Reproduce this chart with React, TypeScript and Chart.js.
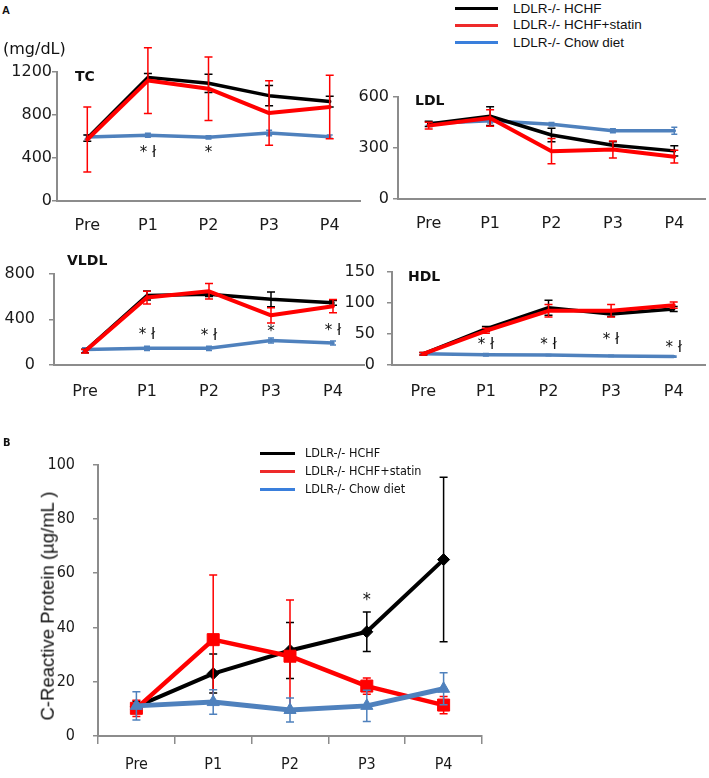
import React, { useEffect, useRef } from 'react';
import { Chart, registerables } from 'chart.js';
Chart.register(...registerables);

// ---------- data ----------
const categories = ['Pre', 'P1', 'P2', 'P3', 'P4'];
const legendLabels = ['LDLR-/- HCHF', 'LDLR-/- HCHF+statin', 'LDLR-/- Chow diet'];

// Panel A: TC
const tcHCHF = [585, 1150, 1095, 980, 925];
const tcHCHFErr = [30, 35, 85, 95, 50];
const tcStatin = [572, 1120, 1045, 818, 875];
const tcStatinErr = [302, 305, 295, 300, 295];
const tcChow = [595, 612, 592, 632, 598];
const tcChowErr = [20, 18, 15, 25, 15];
const tcMarks = ['', '* ł', '*', '', ''];
const tcMarkAt = [0, 450, 450, 0, 0];

// Panel A: LDL
const ldlHCHF = [440, 485, 375, 315, 282];
const ldlHCHFErr = [15, 55, 40, 20, 30];
const ldlStatin = [430, 475, 280, 290, 248];
const ldlStatinErr = [20, 48, 74, 50, 37];
const ldlChow = [442, 458, 438, 400, 400];
const ldlChowErr = [10, 12, 10, 12, 20];
const ldlMarks = ['', '', '', '', ''];
const ldlMarkAt = [0, 0, 0, 0, 0];

// Panel A: VLDL
const vldlHCHF = [122, 608, 620, 575, 544];
const vldlHCHFErr = [15, 40, 20, 65, 20];
const vldlStatin = [120, 590, 645, 435, 515];
const vldlStatinErr = [15, 55, 68, 67, 58];
const vldlChow = [135, 146, 146, 215, 192];
const vldlChowErr = [15, 18, 18, 22, 18];
const vldlMarks = ['', '* ł', '* ł', '*', '* ł'];
const vldlMarkAt = [0, 258, 255, 285, 298];

// Panel A: HDL
const hdlHCHF = [18, 58, 92, 82, 90];
const hdlHCHFErr = [2, 4, 12, 4, 4];
const hdlStatin = [18, 55, 87, 87, 96];
const hdlStatinErr = [2, 4, 10, 10, 5];
const hdlChow = [18, 16.5, 16, 14.5, 13.5];
const hdlChowErr = [1, 2, 1, 1, 1];
const hdlMarks = ['', '* ł', '* ł', '* ł', '* ł'];
const hdlMarkAt = [0, 32, 32, 40, 27];

// Panel B: CRP
const crpHCHF = [10.8, 23, 31.5, 38.4, 65];
const crpHCHFErr = [2, 7.2, 10.3, 7.3, 30.3];
const crpStatin = [10.2, 35.5, 29.4, 18.4, 11.4];
const crpStatinErr = [3, 23.8, 20.7, 3, 3.2];
const crpChow = [11.1, 12.5, 9.6, 11.1, 17.4];
const crpChowErr = [5.2, 4.5, 4.4, 5.8, 5.9];
const crpMarks = ['', '', '', '*', ''];
const crpMarkAt = [0, 0, 0, 50, 0];

// ---------- styles ----------
const AXIS = '#8c8c8c';
const RED = '#ff0000';
const BLUE = '#4f81bd';
const BLACK = '#000000';
const LEG_RED = '#ee2a2a';
const LEG_BLUE = '#3a7fdc';
const FONT_A = "'DejaVu Sans', sans-serif";
const FONT_N = "'Liberation Sans Narrow', 'DejaVu Sans Condensed', 'Liberation Sans', sans-serif";
const FONT_L = "'Liberation Sans', Arial, sans-serif";

const errorBarPlugin = {
  id: 'errorBars',
  beforeDatasetDraw(chart: any, args: any) {
    const ds = chart.data.datasets[args.index];
    const errs = ds.errors;
    if (!errs) return;
    const y = chart.scales.y;
    const ctx = chart.ctx;
    ctx.save();
    ctx.strokeStyle = ds.errorColor || ds.borderColor;
    ctx.lineWidth = ds.errorWidth || 1.5;
    const cap = ds.capHalf ?? 4;
    args.meta.data.forEach((pt: any, i: number) => {
      const v = ds.data[i];
      const e = errs[i];
      const x = pt.x;
      const top = y.getPixelForValue(v + e);
      const bot = y.getPixelForValue(v - e);
      ctx.beginPath();
      ctx.moveTo(x, top);
      ctx.lineTo(x, bot);
      ctx.moveTo(x - cap, top);
      ctx.lineTo(x + cap, top);
      ctx.moveTo(x - cap, bot);
      ctx.lineTo(x + cap, bot);
      ctx.stroke();
    });
    ctx.restore();
  },
};

const marksPlugin = {
  id: 'sigMarks',
  afterDatasetsDraw(chart: any, _a: any, opts: any) {
    if (!opts || !opts.labels) return;
    const { ctx } = chart;
    const x = chart.scales.x;
    const y = chart.scales.y;
    ctx.save();
    ctx.font = opts.font;
    ctx.fillStyle = opts.color || '#111';
    ctx.textAlign = 'center';
    ctx.textBaseline = 'middle';
    opts.labels.forEach((t: string, i: number) => {
      if (!t) return;
      ctx.fillText(t, x.getPixelForValue(i) + (opts.dx || 0), y.getPixelForValue(opts.values[i]));
    });
    ctx.restore();
  },
};

function lineSet(label: string, data: number[], errors: number[], color: string, width: number, order: number, extra: any = {}) {
  return {
    label, data, errors,
    borderColor: color, backgroundColor: color,
    borderWidth: width, pointRadius: 0, tension: 0, order, clip: false,
    borderJoinStyle: 'round', borderCapStyle: 'round',
    ...extra,
  };
}

type Spec = {
  box: { left: number; top: number; width: number; height: number };
  yW: number; xH: number; padT: number; padR: number;
  yPad: number; xPad: number; max: number; step: number;
  datasets: any[]; marks: string[]; markAt: number[]; markFont: string;
  tickFont: any; xGrid: any;
};

function buildConfig(s: Spec): any {
  return {
    type: 'line',
    data: { labels: categories, datasets: s.datasets },
    plugins: [errorBarPlugin, marksPlugin],
    options: {
      responsive: false,
      maintainAspectRatio: false,
      animation: false,
      events: [],
      layout: { padding: { top: s.padT, right: s.padR, left: 0, bottom: 0 } },
      plugins: {
        legend: { display: false },
        tooltip: { enabled: false },
        title: { display: false },
        sigMarks: { labels: s.marks, values: s.markAt, font: s.markFont, color: '#111' },
      },
      scales: {
        x: {
          type: 'category',
          offset: true,
          grid: s.xGrid,
          border: { display: true, color: AXIS, width: 2 },
          ticks: { font: s.tickFont, color: '#1a1a1a', padding: s.xPad, maxRotation: 0, autoSkip: false },
          afterFit: (sc: any) => { sc.height = s.xH; },
        },
        y: {
          min: 0,
          max: s.max,
          ticks: {
            stepSize: s.step, font: s.tickFont, color: '#1a1a1a', padding: s.yPad,
            callback: (v: any) => String(v),
          },
          grid: { display: true, drawOnChartArea: false, drawTicks: true, tickLength: 5, color: AXIS, lineWidth: 1.5 },
          border: { display: true, color: AXIS, width: 2 },
          afterFit: (sc: any) => { sc.width = s.yW; },
        },
      },
    },
  };
}

function aDatasets(h: number[], he: number[], st: number[], se: number[], c: number[], ce: number[]) {
  return [
    lineSet(legendLabels[1], st, se, RED, 4, 0, { capHalf: 4 }),
    lineSet(legendLabels[0], h, he, BLACK, 3.5, 1, { capHalf: 4 }),
    lineSet(legendLabels[2], c, ce, BLUE, 3.5, 2, { capHalf: 3 }),
  ];
}

const aTickFont = { family: FONT_A, size: 16 };
const aMarkFont = `15px ${FONT_A}`;
const aXGrid = { display: false, drawTicks: false };

const specs: Spec[] = [
  {
    box: { left: 0, top: 36, width: 365, height: 205 },
    yW: 57, xH: 40, padT: 36, padR: 5, yPad: 0, xPad: 15, max: 1200, step: 400,
    datasets: aDatasets(tcHCHF, tcHCHFErr, tcStatin, tcStatinErr, tcChow, tcChowErr),
    marks: tcMarks, markAt: tcMarkAt, markFont: aMarkFont, tickFont: aTickFont, xGrid: aXGrid,
  },
  {
    box: { left: 340, top: 83, width: 369, height: 156 },
    yW: 58, xH: 40, padT: 12, padR: 4, yPad: 4, xPad: 15, max: 600, step: 300,
    datasets: aDatasets(ldlHCHF, ldlHCHFErr, ldlStatin, ldlStatinErr, ldlChow, ldlChowErr),
    marks: ldlMarks, markAt: ldlMarkAt, markFont: aMarkFont, tickFont: aTickFont, xGrid: aXGrid,
  },
  {
    box: { left: 0, top: 250, width: 366, height: 160 },
    yW: 54, xH: 45, padT: 12, padR: 2, yPad: 14, xPad: 17, max: 800, step: 400,
    datasets: aDatasets(vldlHCHF, vldlHCHFErr, vldlStatin, vldlStatinErr, vldlChow, vldlChowErr),
    marks: vldlMarks, markAt: vldlMarkAt, markFont: aMarkFont, tickFont: aTickFont, xGrid: aXGrid,
  },
  {
    box: { left: 340, top: 250, width: 369, height: 160 },
    yW: 52, xH: 45, padT: 12, padR: 4, yPad: 12, xPad: 17, max: 150, step: 50,
    datasets: aDatasets(hdlHCHF, hdlHCHFErr, hdlStatin, hdlStatinErr, hdlChow, hdlChowErr),
    marks: hdlMarks, markAt: hdlMarkAt, markFont: aMarkFont, tickFont: aTickFont, xGrid: aXGrid,
  },
  {
    box: { left: 0, top: 437, width: 492, height: 341 },
    yW: 98, xH: 42, padT: 12, padR: 10, yPad: 18, xPad: 11, max: 100, step: 20,
    datasets: [
      lineSet(legendLabels[2], crpChow, crpChowErr, BLUE, 5, 0, { pointRadius: 7, pointStyle: 'triangle', pointBorderWidth: 1, capHalf: 4 }),
      lineSet(legendLabels[1], crpStatin, crpStatinErr, RED, 4.5, 1, { pointRadius: 8.5, pointStyle: 'rect', pointBorderWidth: 1, capHalf: 4 }),
      lineSet(legendLabels[0], crpHCHF, crpHCHFErr, BLACK, 4, 2, { pointRadius: 6, pointStyle: 'rectRot', pointBorderWidth: 1, capHalf: 4 }),
    ],
    marks: crpMarks, markAt: crpMarkAt, markFont: `18px ${FONT_N}`,
    tickFont: { family: FONT_N, size: 16 },
    xGrid: { display: true, drawOnChartArea: false, drawTicks: true, offset: true, tickLength: 8, color: AXIS, lineWidth: 1.5 },
  },
];

const abs = (x: number, y: number, size: number, family: string, bold = false, color = '#111'): React.CSSProperties => ({
  position: 'absolute', left: x, top: y, fontSize: size, fontFamily: family,
  fontWeight: bold ? 700 : 400, lineHeight: 1, whiteSpace: 'nowrap', color,
});

const legendColorsA = [BLACK, LEG_RED, LEG_BLUE];

export default function App() {
  const refs = useRef<(HTMLCanvasElement | null)[]>([]);
  useEffect(() => {
    const charts = specs.map((s, i) => new Chart(refs.current[i] as HTMLCanvasElement, buildConfig(s)));
    return () => charts.forEach((c) => c.destroy());
  }, []);

  return (
    <div style={{ position: 'absolute', left: 0, top: 0, width: 709, height: 778, background: '#fff', overflow: 'hidden' }}>
      {specs.map((s, i) => (
        <canvas
          key={i}
          ref={(el) => { refs.current[i] = el; }}
          width={s.box.width}
          height={s.box.height}
          style={{ position: 'absolute', left: s.box.left, top: s.box.top, width: s.box.width, height: s.box.height }}
        />
      ))}

      <div style={abs(2, 5, 11, FONT_L, true)}>A</div>
      <div style={abs(3, 41, 16, FONT_A)}>(mg/dL)</div>
      <div style={abs(75, 69, 14, FONT_A, true)}>TC</div>
      <div style={abs(415, 93, 14, FONT_A, true)}>LDL</div>
      <div style={abs(67, 253, 14, FONT_A, true)}>VLDL</div>
      <div style={abs(408, 269, 14, FONT_A, true)}>HDL</div>

      {legendLabels.map((t, i) => (
        <React.Fragment key={'la' + i}>
          <div style={{ position: 'absolute', left: 455, top: [8.3, 25, 42.7][i] - 1.5, width: 43, height: 3, background: legendColorsA[i] }} />
          <div style={abs(513, [8.3, 25, 42.7][i] - 6.6, 13.5, FONT_L)}>{t}</div>
        </React.Fragment>
      ))}

      <div style={abs(3, 437, 11, FONT_N, true)}>B</div>
      {legendLabels.map((t, i) => (
        <React.Fragment key={'lb' + i}>
          <div style={{ position: 'absolute', left: 260, top: [453, 471, 489][i] - 1.5, width: 35, height: 3, background: legendColorsA[i] }} />
          <div style={abs(305, [453, 471, 489][i] - 6.2, 12.5, FONT_N)}>{t}</div>
        </React.Fragment>
      ))}

      <div
        style={{
          position: 'absolute', left: 48, top: 606, fontSize: 18.5, fontFamily: FONT_L, lineHeight: 1,
          whiteSpace: 'nowrap', color: '#111', transform: 'translate(-50%, -50%) rotate(-90deg)',
        }}
      >
        C-Reactive Protein (µg/mL )
      </div>
    </div>
  );
}
